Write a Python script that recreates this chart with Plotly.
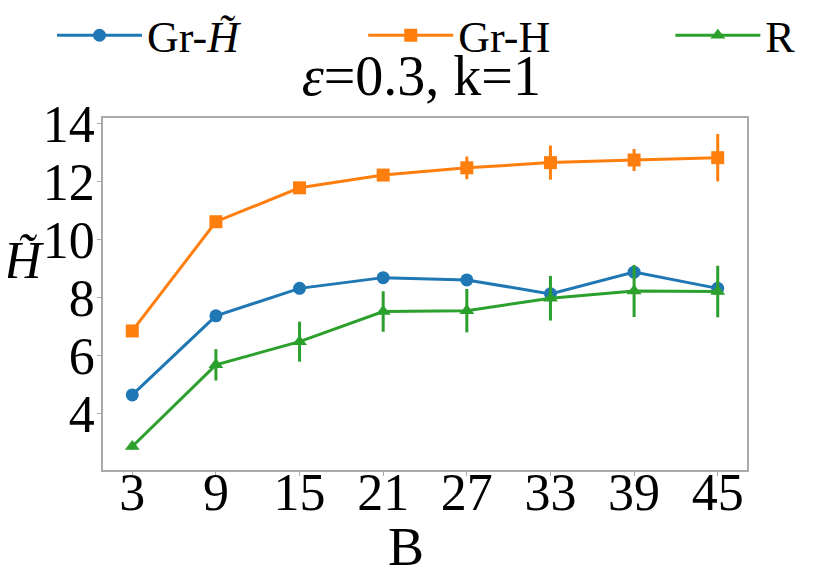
import plotly.graph_objects as go

# Data
budgets = [3, 9, 15, 21, 27, 33, 39, 45]

gr_htilde = [4.64, 7.37, 8.32, 8.69, 8.61, 8.13, 8.88, 8.32]
gr_htilde_err = [0.08, 0.1, 0.1, 0.1, 0.1, 0.1, 0.2, 0.1]

gr_h = [6.85, 10.62, 11.79, 12.23, 12.48, 12.66, 12.75, 12.83]
gr_h_err = [0.1, 0.15, 0.2, 0.15, 0.39, 0.59, 0.38, 0.82]

random_vals = [2.86, 5.68, 6.48, 7.52, 7.55, 7.98, 8.23, 8.21]
random_err = [0.1, 0.54, 0.69, 0.70, 0.75, 0.77, 0.90, 0.89]

series = [
    ("Gr-<i>H̃</i>", gr_htilde, gr_htilde_err, "#1f77b4", "circle", "legend"),
    ("Gr-H", gr_h, gr_h_err, "#ff7f0e", "square", "legend2"),
    ("R", random_vals, random_err, "#2ca02c", "triangle-up", "legend3"),
]

font_family = "Liberation Serif, Times New Roman, serif"

fig = go.Figure()

for name, vals, errs, color, symbol, leg in series:
    fig.add_trace(go.Scatter(
        x=budgets,
        y=vals,
        mode="lines+markers",
        name=name,
        legend=leg,
        line=dict(color=color, width=3),
        marker=dict(symbol=symbol, size=13, color=color),
        error_y=dict(type="data", array=errs, color=color, thickness=3, width=0),
    ))

# one legend box per entry so the entries can be spread across the top
def legend_box(x):
    return dict(
        orientation="h",
        xref="container", yref="container",
        x=x, y=0.952, xanchor="left", yanchor="middle",
        font=dict(size=44),
        itemwidth=85,
        bgcolor="rgba(0,0,0,0)",
    )

fig.update_layout(
    width=830,
    height=576,
    plot_bgcolor="white",
    paper_bgcolor="white",
    font=dict(family=font_family, size=50, color="black"),
    margin=dict(l=95, r=91, t=110, b=114, autoexpand=False),
    title=dict(
        text="<i>ε</i>=0.3, k=1",
        x=0.498, xanchor="center",
        y=0.883, yanchor="middle",
        font=dict(size=56),
    ),
    legend=legend_box(0.053),
    legend2=legend_box(0.428),
    legend3=legend_box(0.798),
    showlegend=True,
)

fig.update_xaxes(
    range=[0.9, 47.1],
    tickvals=budgets,
    ticktext=[str(b) for b in budgets],
    showgrid=False, zeroline=False,
    showline=True, linecolor="#aaaaaa", linewidth=1.5, mirror=True,
    ticks="outside", ticklen=4, tickcolor="#aaaaaa",
    tickfont=dict(size=52),
    ticklabelstandoff=-28,
)

fig.update_yaxes(
    range=[2.05, 14.2],
    tickvals=[4, 6, 8, 10, 12, 14],
    showgrid=False, zeroline=False,
    showline=True, linecolor="#aaaaaa", linewidth=1.5, mirror=True,
    ticks="outside", ticklen=4, tickcolor="#aaaaaa",
    tickfont=dict(size=52),
    ticklabelstandoff=-8,
)

# Horizontal y-axis label, as in the reference
fig.add_annotation(
    text="<i>H̃</i>",
    xref="paper", yref="paper",
    x=-0.123, y=0.594, xanchor="center", yanchor="middle",
    showarrow=False,
    font=dict(size=52, family=font_family),
)

# x-axis label
fig.add_annotation(
    text="B",
    xref="paper", yref="paper",
    x=0.47, y=-0.218, xanchor="center", yanchor="middle",
    showarrow=False,
    font=dict(size=54, family=font_family),
)

fig.write_html("out.html")
